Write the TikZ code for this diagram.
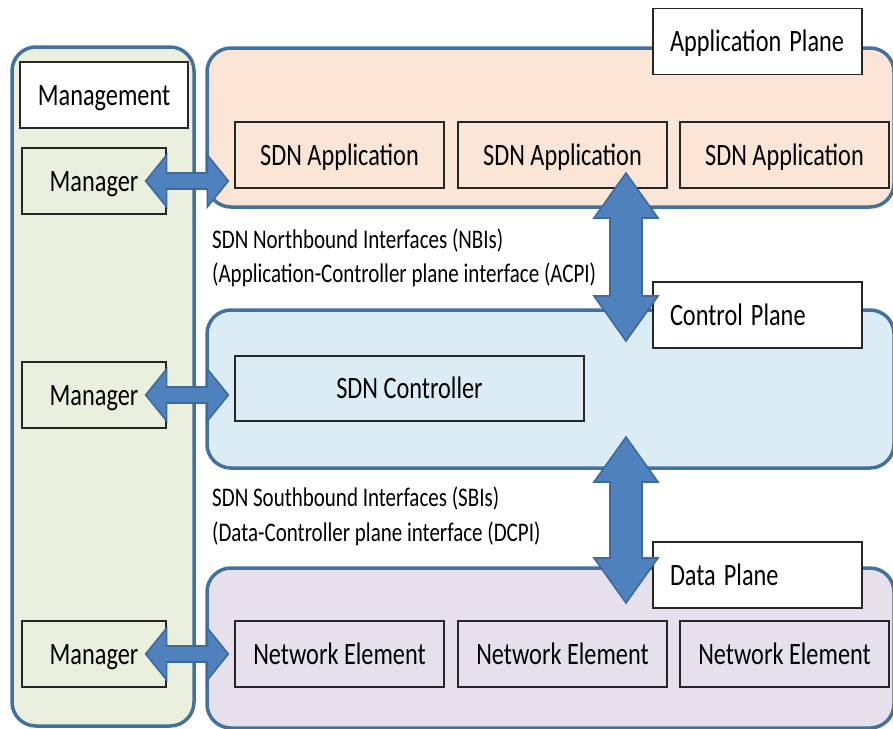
\documentclass[tikz,border=0pt]{standalone}
\usepackage{fontspec}
\setmainfont{Carlito}
\usepackage{graphicx}
\usetikzlibrary{calc}

\definecolor{planeedge}{HTML}{41719C}
\definecolor{mgmtfill}{HTML}{EBF0DE}
\definecolor{appfill}{HTML}{FBE5D6}
\definecolor{ctrlfill}{HTML}{DCECF4}
\definecolor{datafill}{HTML}{E6E0EC}
\definecolor{arrowfill}{HTML}{4F81BD}
\definecolor{arrowedge}{HTML}{3C6A9C}

% text in this figure is set slightly tall
\newcommand{\tallbox}[1]{\scalebox{1}[1.28]{#1}}

% horizontal double arrow between tips #1 (left) and #2 (right)
\newcommand{\hdarrow}[2]{%
  \filldraw[fatarrow] let \p1=(#1), \p2=(#2) in
    (\x1,\y1) -- (\x1+21pt,\y1+26pt) -- (\x1+21pt,\y1+8pt) -- (\x2-21pt,\y1+8pt)
    -- (\x2-21pt,\y1+26pt) -- (\x2,\y1) -- (\x2-21pt,\y1-26pt) -- (\x2-21pt,\y1-8pt)
    -- (\x1+21pt,\y1-8pt) -- (\x1+21pt,\y1-26pt) -- cycle;}

% vertical double arrow between tips #1 (top) and #2 (bottom)
\newcommand{\vdarrow}[2]{%
  \filldraw[fatarrow] let \p1=(#1), \p2=(#2) in
    (\x1,\y1) -- (\x1+32pt,\y1-45pt) -- (\x1+16pt,\y1-45pt) -- (\x1+16pt,\y2+45pt)
    -- (\x1+32pt,\y2+45pt) -- (\x1,\y2) -- (\x1-32pt,\y2+45pt) -- (\x1-16pt,\y2+45pt)
    -- (\x1-16pt,\y1-45pt) -- (\x1-32pt,\y1-45pt) -- cycle;}

\begin{document}
\begin{tikzpicture}[x=1pt,y=-1pt,
  plane/.style={draw=planeedge, line width=3.5pt, rounded corners=24pt, inner sep=0pt},
  box/.style={draw=black!85, line width=1.3pt, inner sep=0pt, minimum height=66pt,
    text height=20pt, text depth=0pt, font=\fontsize{24.3}{29}\selectfont},
  appbox/.style={box, minimum width=209pt, fill=appfill},
  nebox/.style={box, minimum width=209pt, fill=datafill},
  mgrbox/.style={box, minimum width=144pt, fill=mgmtfill},
  planelabel/.style={box, fill=white, minimum width=209pt, text width=175pt, align=left},
  iftext/.style={anchor=base west, inner sep=0pt, font=\fontsize{21}{25}\selectfont},
  fatarrow/.style={fill=arrowfill, draw=arrowedge, line width=1.6pt, line join=miter}
]
\useasboundingbox (0,0) rectangle (893,728);

% plane containers
\node[plane, fill=mgmtfill, minimum width=182pt, minimum height=679pt] (mgmt) at (103,386.5) {};
\node[plane, fill=appfill, minimum width=687pt, minimum height=159pt] (appplane) at (550.5,127.5) {};
\node[plane, fill=ctrlfill, minimum width=687pt, minimum height=158pt] (ctrlplane) at (550.5,389) {};
\node[plane, fill=datafill, minimum width=687pt, minimum height=160pt] (dataplane) at (550.5,648) {};

% management column
\node[box, fill=white, minimum width=168pt] (mgmtlabel) at (104,95) {\tallbox{Management}};
\node[mgrbox] (mgr1) at (94,181) {\tallbox{Manager}};
\node[mgrbox] (mgr2) at (94,395) {\tallbox{Manager}};
\node[mgrbox] (mgr3) at (94,654) {\tallbox{Manager}};

% application plane
\node[planelabel] (applabel) at (757.5,41.5) {\tallbox{Application Plane}};
\node[appbox] (app1) at (339.5,155) {\tallbox{SDN Application}};
\node[appbox] (app2) at (562.5,155) {\tallbox{SDN Application}};
\node[appbox] (app3) at (784.5,155) {\tallbox{SDN Application}};

% control plane
\node[planelabel] (ctrllabel) at (757.5,315) {\tallbox{Control Plane}};
\node[box, fill=ctrlfill, minimum width=349pt, minimum height=65pt] (ctrl) at (409.5,388.5) {\tallbox{SDN Controller}};

% data plane
\node[planelabel] (datalabel) at (757.5,575) {\tallbox{Data Plane}};
\node[nebox] (ne1) at (339.5,654) {\tallbox{Network Element}};
\node[nebox] (ne2) at (562.5,654) {\tallbox{Network Element}};
\node[nebox] (ne3) at (784.5,654) {\tallbox{Network Element}};

% interface descriptions
\node[iftext] (nbi1) at (212,248) {\tallbox{SDN Northbound Interfaces (NBIs)}};
\node[iftext] (nbi2) at (212,282) {\tallbox{(Application-Controller plane interface (ACPI)}};
\node[iftext] (sbi1) at (212,506) {\tallbox{SDN Southbound  Interfaces (SBIs)}};
\node[iftext] (sbi2) at (212,541) {\tallbox{(Data-Controller plane interface (DCPI)}};

% arrow end points
\coordinate (h1a) at ([xshift=-21pt]mgr1.east);
\coordinate (h1b) at ([xshift=-6pt]app1.west);
\coordinate (h2a) at ([xshift=-21pt]mgr2.east);
\coordinate (h2b) at ([xshift=-6pt]ctrl.west);
\coordinate (h3a) at ([xshift=-21pt]mgr3.east);
\coordinate (h3b) at ([xshift=-6pt]ne1.west);
\coordinate (nbitop) at (626,173);
\coordinate (nbibot) at (626,341);
\coordinate (sbitop) at (626,437);
\coordinate (sbibot) at (626,603);

% interface arrows
\hdarrow{h1a}{h1b}
\hdarrow{h2a}{h2b}
\hdarrow{h3a}{h3b}
\vdarrow{nbitop}{nbibot}
\vdarrow{sbitop}{sbibot}
\end{tikzpicture}
\end{document}
